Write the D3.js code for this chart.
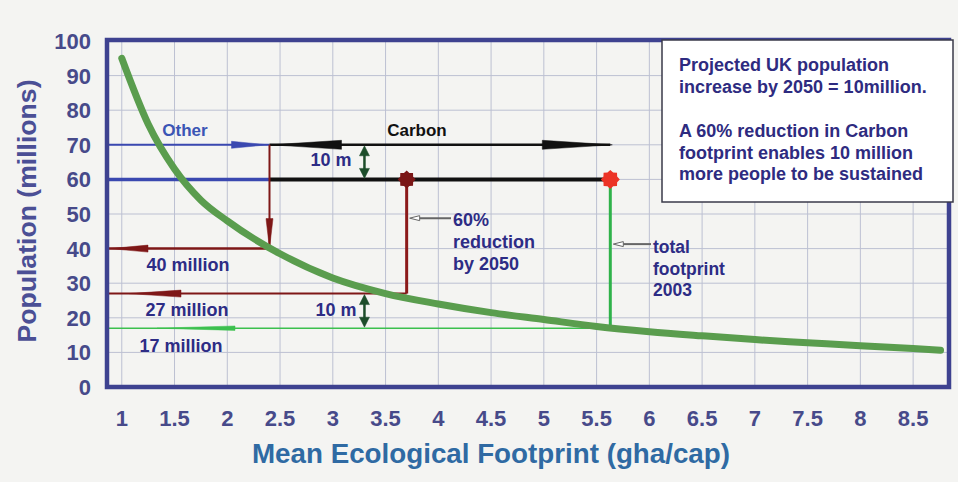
<!DOCTYPE html>
<html>
<head>
<meta charset="utf-8">
<title>UK population and ecological footprint</title>
<script src="https://d3js.org/d3.v7.min.js"></script>
<style>
  body { margin: 0; background: #f4f4f2; }
  svg { display: block; font-family: "Liberation Sans", Arial, sans-serif; }
  .grid line { stroke: #bcc0d2; stroke-width: 1; }
  .tick-label { font-weight: bold; font-size: 22px; fill: #474a8a; }
  .note { font-weight: bold; font-size: 18px; fill: #2d2c85; }
</style>
</head>
<body>
<div id="chart"></div>
<script>
// sustainable population curve
var footprint  = [1, 1.25, 1.5, 1.75, 2, 2.5, 3, 3.5, 4, 4.5, 5, 5.5, 6, 6.5, 7, 7.5, 8, 8.5, 8.76];
var population = [95, 76, 63, 54, 48, 38.5, 31.5, 27, 24, 21.5, 19.5, 17.5, 16, 14.8, 13.7, 12.8, 11.9, 11.1, 10.6];

var xTicks = [1, 1.5, 2, 2.5, 3, 3.5, 4, 4.5, 5, 5.5, 6, 6.5, 7, 7.5, 8, 8.5];
var yTicks = [0, 10, 20, 30, 40, 50, 60, 70, 80, 90, 100];

// annotation levels (millions) and footprints (gha/cap)
var projectedPop = 70, currentPop = 60, otherPop = 40, reducedPop = 27, totalPop = 17;
var otherFootprint = 2.4, reducedFootprint = 3.7, totalFootprint = 5.63, gapFootprint = 3.3;

var reductionNote = ["60%", "reduction", "by 2050"];
var totalNote = ["total", "footprint", "2003"];
var boxLines = ["Projected UK population", "increase by 2050 = 10million.", "",
                "A 60% reduction in Carbon", "footprint enables 10 million", "more people to be sustained"];

var width = 958, height = 482;

var svg = d3.select("#chart").append("svg")
    .attr("width", width)
    .attr("height", height);

var x = d3.scaleLinear().domain([0.86, 8.84]).range([107, 949]);
var y = d3.scaleLinear().domain([0, 100]).range([387, 41]);

// grid
var grid = svg.append("g").attr("class", "grid");
grid.selectAll(".gx").data(xTicks).enter().append("line")
    .attr("x1", function(d) { return x(d); }).attr("x2", function(d) { return x(d); })
    .attr("y1", y(100)).attr("y2", y(0));
grid.selectAll(".gy").data(yTicks).enter().append("line")
    .attr("x1", x.range()[0]).attr("x2", x.range()[1])
    .attr("y1", function(d) { return y(d); }).attr("y2", function(d) { return y(d); });

// tick labels
svg.selectAll(".xl").data(xTicks).enter().append("text")
    .attr("class", "tick-label")
    .attr("x", function(d) { return x(d); })
    .attr("y", 426)
    .attr("text-anchor", "middle")
    .text(function(d) { return d; });

svg.selectAll(".yl").data(yTicks).enter().append("text")
    .attr("class", "tick-label")
    .attr("x", 91)
    .attr("y", function(d) { return y(d) + 8; })
    .attr("text-anchor", "end")
    .text(function(d) { return d; });

// axis titles
svg.append("text")
    .attr("x", 491).attr("y", 463)
    .attr("text-anchor", "middle")
    .attr("textLength", 478).attr("lengthAdjust", "spacingAndGlyphs")
    .style("font-size", "27px").style("font-weight", "bold").style("fill", "#2f6aa3")
    .text("Mean Ecological Footprint  (gha/cap)");

svg.append("text")
    .attr("transform", "translate(36,211) rotate(-90)")
    .attr("text-anchor", "middle")
    .attr("textLength", 263).attr("lengthAdjust", "spacingAndGlyphs")
    .style("font-size", "25px").style("font-weight", "bold").style("fill", "#4b4f95")
    .text("Population (millions)");

// helpers
function hline(v, x0, x1, color, w) {
  return svg.append("line")
    .attr("x1", x(x0)).attr("x2", x(x1))
    .attr("y1", y(v)).attr("y2", y(v))
    .attr("stroke", color).attr("stroke-width", w);
}
function vline(f, v0, v1, color, w) {
  return svg.append("line")
    .attr("x1", x(f)).attr("x2", x(f))
    .attr("y1", y(v0)).attr("y2", y(v1))
    .attr("stroke", color).attr("stroke-width", w);
}
// long thin arrow head, tip at (tx,ty), dir: "l","r","u","d"
function head(tx, ty, dir, len, half, color) {
  var p;
  if (dir === "r") p = [[tx, ty], [tx - len, ty - half], [tx - len, ty + half]];
  if (dir === "l") p = [[tx, ty], [tx + len, ty - half], [tx + len, ty + half]];
  if (dir === "d") p = [[tx, ty], [tx - half, ty - len], [tx + half, ty - len]];
  if (dir === "u") p = [[tx, ty], [tx - half, ty + len], [tx + half, ty + len]];
  return svg.append("path")
    .attr("d", "M" + p.join("L") + "Z")
    .attr("fill", color).attr("stroke", color).attr("stroke-width", 0.5);
}
function star(f, v, r, color) {
  var pts = d3.range(16).map(function(i) {
    var a = i * Math.PI / 8, rr = i % 2 ? r * 0.78 : r;
    return [x(f) + rr * Math.sin(a), y(v) - rr * Math.cos(a)];
  });
  return svg.append("path").attr("d", "M" + pts.join("L") + "Z").attr("fill", color);
}

var dark = "#7e1717", blue = "#3a48b0", green = "#2fb24a";

// "Other" and "Carbon" at the projected level
hline(projectedPop, 0.86, otherFootprint, blue, 2);
head(x(otherFootprint) - 2, y(projectedPop), "r", 36, 3.5, blue);
hline(projectedPop, otherFootprint, totalFootprint, "#111", 2.5);
head(x(otherFootprint) + 2, y(projectedPop), "l", 70, 4.5, "#111");
head(x(totalFootprint) + 2, y(projectedPop), "r", 70, 4.5, "#111");

// current level
hline(currentPop, 0.86, otherFootprint, blue, 3.5);
hline(currentPop, otherFootprint, totalFootprint, "#111", 4);

// other footprint drop to 40 million
vline(otherFootprint, projectedPop, otherPop, dark, 2);
head(x(otherFootprint), y(otherPop), "d", 30, 3.5, dark);
hline(otherPop, 0.86, otherFootprint, dark, 2.5);
head(x(0.86) + 3, y(otherPop), "l", 38, 3.5, dark);

// 60% reduction -> 27 million
vline(reducedFootprint, reducedPop, currentPop, "#8b1a1a", 3);
hline(reducedPop, 0.86, reducedFootprint, dark, 2);
head(x(0.86) + 22, y(reducedPop), "l", 52, 3.5, dark);

// total footprint 2003 -> 17 million
vline(totalFootprint, totalPop, currentPop, green, 3);
hline(totalPop, 0.86, totalFootprint, "#3cc04e", 1.5);
head(157, y(totalPop), "l", 78, 2.2, "#3cc04e");

// 10 m double arrows
[[projectedPop, currentPop], [reducedPop, totalPop]].forEach(function(p) {
  vline(gapFootprint, p[0], p[1], "#1d4d2a", 2.5).attr("y1", y(p[0]) + 4).attr("y2", y(p[1]) - 4);
  head(x(gapFootprint), y(p[0]) + 1, "u", 10, 5, "#1d4d2a");
  head(x(gapFootprint), y(p[1]) - 1, "d", 10, 5, "#1d4d2a");
});

// the curve
var line = d3.line()
    .x(function(d, i) { return x(footprint[i]); })
    .y(function(d) { return y(d); })
    .curve(d3.curveMonotoneX);
svg.append("path")
    .datum(population)
    .attr("d", line)
    .attr("fill", "none")
    .attr("stroke", "#5a9d4e")
    .attr("stroke-width", 7)
    .attr("stroke-linecap", "round");

star(reducedFootprint, currentPop, 9, "#7a1616");
star(totalFootprint, currentPop, 9.5, "#ec3326");

// frame
svg.append("rect")
    .attr("x", x.range()[0]).attr("y", y(100) - 1)
    .attr("width", x.range()[1] - x.range()[0]).attr("height", y(0) - y(100) + 1)
    .attr("fill", "none").attr("stroke", "#3e4290").attr("stroke-width", 4.5);

// pointer arrows
function pointer(x0, x1, v) {
  svg.append("line").attr("x1", x0).attr("x2", x1 + 8).attr("y1", y(v)).attr("y2", y(v))
    .attr("stroke", "#666").attr("stroke-width", 2);
  svg.append("path")
    .attr("d", "M" + x1 + "," + y(v) + "L" + (x1 + 10) + "," + (y(v) - 2.5) + "L" + (x1 + 10) + "," + (y(v) + 2.5) + "Z")
    .attr("fill", "#fff").attr("stroke", "#666").attr("stroke-width", 1);
}
pointer(451, x(reducedFootprint) + 3, 48.8);
pointer(651, x(totalFootprint) + 3, 41.3);

// labels
function label(txt, cx, cy, color, size, anchor) {
  return svg.append("text").attr("class", "note")
    .attr("x", cx).attr("y", cy + size * 0.36)
    .attr("text-anchor", anchor || "middle")
    .style("fill", color || "#2d2c85").style("font-size", size + "px")
    .text(txt);
}
label("Other", 185, 130, "#3b55b5", 17);
label("Carbon", 417, 130, "#111", 17);
label("10 m", 331, 160, "#2d2c85", 18);
label("10 m", 336, 310, "#2d2c85", 18);
label(otherPop + " million", 188, 265, "#2d2c85", 18);
label(reducedPop + " million", 187, 310, "#2d2c85", 18);
label(totalPop + " million", 181, 346, "#2d2c85", 18);
reductionNote.forEach(function(t, i) { label(t, 453, 220 + i * 22, "#2d2c85", 18, "start"); });
totalNote.forEach(function(t, i) { label(t, 653, 247 + i * 21.5, "#2d2c85", 17.5, "start"); });

// text box
svg.append("rect")
    .attr("x", 662).attr("y", 40).attr("width", 291).attr("height", 162)
    .attr("fill", "#fff").attr("stroke", "#3a3a4a").attr("stroke-width", 1.5);
boxLines.forEach(function(t, i) { label(t, 679, 65 + i * 21.8, "#2e2b80", 18, "start"); });
</script>
</body>
</html>
